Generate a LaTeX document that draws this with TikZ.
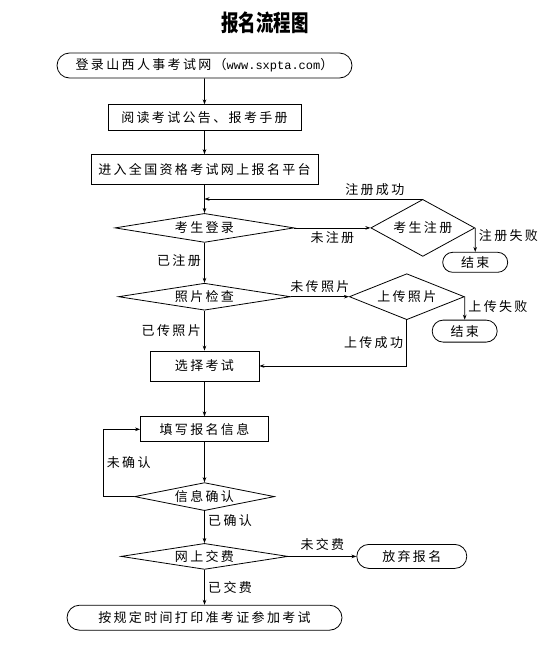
\documentclass[tikz,border=0pt]{standalone}
\usepackage{graphicx}
\usepackage{fontspec}
\setmainfont{Noto Sans CJK SC}[LetterSpace=18]
\setmonofont{Liberation Mono}
\usetikzlibrary{arrows.meta,positioning,shapes.geometric,shapes.misc}

\begin{document}
\begin{tikzpicture}[x=1pt,y=1pt,font=\fontsize{13}{15}\selectfont,
      >={Stealth[length=5pt,width=3.6pt]},line width=0.8pt,
      box/.style={draw,rectangle,inner sep=0pt},
      term/.style={draw,rounded rectangle,inner sep=0pt},
      cond/.style={draw,diamond,inner sep=0pt}]
    \useasboundingbox (0,0) rectangle (556,-654);
    \node (title) at (265,-23) {\scalebox{0.92}[1.2]{\fontsize{19}{21}\selectfont\bfseries\addfontfeature{LetterSpace=0}报名流程图}};
    \node[term,minimum width=295pt,minimum height=25pt] (site) at (204.5,-65.5) {登录山西人事考试网（{\ttfamily\fontsize{12}{14}\selectfont www.sxpta.com}）};
    \node[box,minimum width=193pt,minimum height=26pt,below=26pt of site] (read) {阅读考试公告、报考手册};
    \node[box,minimum width=227pt,minimum height=30pt,below=23pt of read] (entry) {进入全国资格考试网上报名平台};
    \node[cond,aspect=5,minimum width=179pt,minimum height=29pt,below=28pt of entry] (signin) {考生登录};
    \node[cond,aspect=2,minimum width=104pt,minimum height=57pt,right=76pt of signin] (signup) {考生注册};
    \node[term,minimum width=65pt,minimum height=20pt,below=24pt of signup.east] (failA) {结束};
    \node[cond,aspect=6,minimum width=172pt,minimum height=27pt,below=40pt of signin] (photo) {照片检查};
    \node[cond,aspect=2.5,minimum width=115pt,minimum height=46pt,right=58pt of photo] (upload) {上传照片};
    \node[term,minimum width=65pt,minimum height=22pt,below=23pt of upload.east] (failB) {结束};
    \node[box,minimum width=109pt,minimum height=30pt,below=40pt of photo] (pick) {选择考试};
    \node[box,minimum width=128pt,minimum height=25pt,below=35pt of pick] (form) {填写报名信息};
    \node[cond,aspect=5,minimum width=140pt,minimum height=28pt,below=40pt of form] (check) {信息确认};
    \node[cond,aspect=6,minimum width=167pt,minimum height=26pt,below=32pt of check] (pay) {网上交费};
    \node[term,minimum width=110pt,minimum height=24pt,right=68pt of pay] (quit) {放弃报名};
    \node[term,minimum width=275pt,minimum height=25pt,below=35pt of pay] (exam) {按规定时间打印准考证参加考试};
    \coordinate[left=31pt of check.west] (loop);
    \foreach \a/\b in {site/read,read/entry,entry/signin,pick/form,form/check}
      \draw[->] (\a) -- (\b);
    \draw[->] (signup.north) -- node[above,pos=0.22] {注册成功} (signin.north |- signup.north);
    \draw[->] (signin) -- node[below] {未注册} (signup);
    \draw[->] (signup.east) -- node[right,pos=0.3] {注册失败} (failA);
    \draw[->] (signin) -- node[left,pos=0.45] {已注册} (photo);
    \draw[->] (photo) -- node[above] {未传照片} (upload);
    \draw[->] (upload.east) -- node[right,pos=0.43] {上传失败} (failB);
    \draw[->] (upload.south) |- node[left,pos=0.25] {上传成功} (pick.east);
    \draw[->] (photo) -- node[left] {已传照片} (pick);
    \draw[->] (check.west) -- (loop) |- node[right,pos=0.25] {未确认} (form.west);
    \draw[->] (check) -- node[right,pos=0.3] {已确认} (pay);
    \draw[->] (pay) -- node[above=2pt] {未交费} (quit);
    \draw[->] (pay) -- node[right] {已交费} (exam);
  \end{tikzpicture}
\end{document}
